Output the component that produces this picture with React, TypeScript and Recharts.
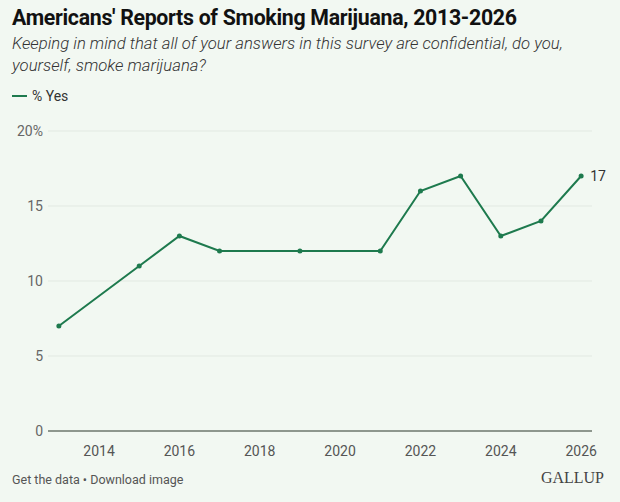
import { LineChart, Line, XAxis, YAxis, CartesianGrid, ReferenceLine, LabelList } from 'recharts';

const years = [2013, 2015, 2016, 2017, 2019, 2021, 2022, 2023, 2024, 2025, 2026];
const yesPct = [7, 11, 13, 12, 12, 12, 16, 17, 13, 14, 17];
const xTicks = [2014, 2016, 2018, 2020, 2022, 2024, 2026];
const yTicks = [0, 5, 10, 15, 20];

const data = years.map((year, i) => ({ year, yes: yesPct[i] }));

const GREEN = '#1e7a4e';
const FONT = 'Roboto, "Noto Sans", sans-serif';

const LastLabel = (props: any) => {
  const { x, y, value, index } = props;
  if (index !== data.length - 1) return null;
  return (
    <text x={x + 9} y={y} dy={5} fontSize={14} fill="#333" fontFamily={FONT}>
      {value}
    </text>
  );
};

export default function App() {
  return (
    <div
      style={{
        position: 'fixed',
        left: 0,
        top: 0,
        width: 620,
        height: 502,
        background: '#f2f8f2',
        fontFamily: FONT,
        overflow: 'hidden',
      }}
    >
      <div style={{ position: 'absolute', left: 12, top: 5, fontSize: 21.3, fontWeight: 700, color: '#111', letterSpacing: -0.3 }}>
        Americans' Reports of Smoking Marijuana, 2013-2026
      </div>
      <div style={{ position: 'absolute', left: 12, top: 33, width: 600, fontSize: 16.7, fontStyle: 'italic', fontWeight: 300, color: '#333', lineHeight: '22px' }}>
        Keeping in mind that all of your answers in this survey are confidential, do you, yourself, smoke marijuana?
      </div>
      <div style={{ position: 'absolute', left: 12, top: 88, fontSize: 14, color: '#333', display: 'flex', alignItems: 'center' }}>
        <span style={{ display: 'inline-block', width: 15, height: 2, background: GREEN, marginRight: 5 }} />
        % Yes
      </div>

      <div style={{ position: 'absolute', left: 0, top: 0 }}>
        <LineChart width={620} height={502} data={data} margin={{ top: 131, right: 28, bottom: 0, left: 8 }}>
          <CartesianGrid vertical={false} stroke="#e2e9e2" strokeWidth={1} />
          <XAxis
            dataKey="year"
            type="number"
            domain={[2012.73, 2026.27]}
            ticks={xTicks}
            allowDataOverflow
            axisLine={false}
            tickLine={false}
            tickSize={0}
            tickMargin={15}
            height={71}
            tick={{ fontSize: 14, fill: '#555', fontFamily: FONT }}
          />
          <YAxis
            type="number"
            domain={[0, 20]}
            ticks={yTicks}
            width={40}
            axisLine={false}
            tickLine={false}
            tickSize={0}
            tickMargin={5}
            tickFormatter={(v: number) => (v === 20 ? '20%' : String(v))}
            tick={{ fontSize: 14, fill: '#666', fontFamily: FONT }}
          />
          <ReferenceLine y={0} stroke="#8e978e" strokeWidth={2} />
          <Line
            type="linear"
            dataKey="yes"
            stroke={GREEN}
            strokeWidth={2}
            dot={{ r: 2.5, fill: GREEN, stroke: GREEN, strokeWidth: 0 }}
            activeDot={false}
            isAnimationActive={false}
          >
            <LabelList dataKey="yes" content={LastLabel} />
          </Line>
        </LineChart>
      </div>

      <div style={{ position: 'absolute', left: 12, top: 472, fontSize: 12.5, color: '#555' }}>
        Get the data • Download image
      </div>
      <div style={{ position: 'absolute', right: 16, top: 469, fontSize: 16, color: '#444', fontFamily: '"Liberation Serif", "DejaVu Serif", serif' }}>
        GALLUP
      </div>
    </div>
  );
}
